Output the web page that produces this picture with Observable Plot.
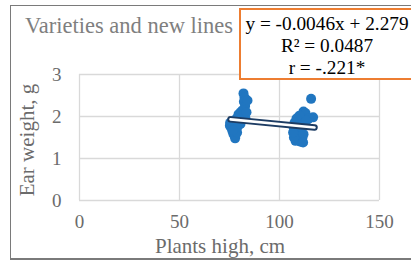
<!DOCTYPE html>
<html><head><meta charset="utf-8">
<script src="https://cdn.jsdelivr.net/npm/d3@7"></script>
<script src="https://cdn.jsdelivr.net/npm/@observablehq/plot@0.6"></script>
<style>
body{margin:0;background:#fff;}
#wrap{position:relative;width:411px;height:262px;overflow:hidden;font-family:"Liberation Serif","Times New Roman",serif;}
#wrap svg{position:absolute;left:0;top:0;}
#frame{position:absolute;left:10px;top:5px;width:430px;height:252px;border:1px solid #7a7a7a;border-bottom:2px solid #7a7a7a;}
#title{position:absolute;left:25px;top:13px;font-size:22.5px;color:#7f7f7f;white-space:nowrap;}
#ytitle{position:absolute;left:27px;top:140px;font-size:21px;line-height:21px;color:#6b6b6b;white-space:nowrap;transform:translate(-50%,-50%) rotate(-90deg);}
#eq{position:absolute;left:239px;top:8px;width:176px;height:72px;border:2px solid #ed7d31;background:#fff;box-sizing:border-box;text-align:center;font-size:19.3px;line-height:22px;color:#000;padding-top:3px;}
</style></head>
<body>
<div id="wrap">
<div id="frame"></div>
<div id="title">Varieties and new lines</div>
<div id="chart"></div>
<div id="ytitle">Ear weight, g</div>
<div id="eq">y = -0.0046x + 2.279<br>R² = 0.0487<br>r = -.221*</div>
</div>
<script>
const plantHeight = [82,82.5,82.2,82.8,81.5,80.5,79.5,81,78.5,77,75.3,75.2,76,77.5,79,76.5,77,78,77.8,78.8,80,83,79,76.8,80.5,84,83.5,
  115.8,112,113,116.8,114.5,110,108.5,107.5,107,108,109,110.5,107.5,108.5,109.5,110.5,108,111.5,112,111,112.5,109.5,107.2,111.8,106.8,113.5];
const earWeight = [2.55,2.45,2.35,2.25,2.15,2.1,2.05,2.0,1.95,1.9,1.85,1.78,1.72,1.7,1.8,1.65,1.58,1.55,1.48,1.62,1.88,1.95,1.75,1.68,1.82,2.38,2.1,
  2.42,2.12,2.08,1.98,1.95,2.02,1.95,1.85,1.75,1.7,1.65,1.62,1.6,1.52,1.45,1.4,1.42,1.5,1.58,1.75,1.85,1.8,1.5,1.38,1.62,1.9];
const slope = -0.0046, intercept = 2.279;
const trendX = [75.5, 117.5];
const xTicks = [0,50,100,150];
const yTicks = [0,1,2,3];

const pts = plantHeight.map((x,i)=>({x, y: earWeight[i]}));
const trend = trendX.map(x=>({x, y: slope*x+intercept}));
const gray = "#6b6b6b";

const chart = Plot.plot({
  width:411, height:262,
  marginLeft:79, marginRight:32, marginTop:74, marginBottom:62,
  style:{fontFamily:"Liberation Serif, Times New Roman, serif", fontSize:"19px", color:gray, background:"transparent", overflow:"visible"},
  x:{domain:[0,150], label:null},
  y:{domain:[0,3], label:null},
  marks:[
    Plot.gridX(xTicks, {stroke:"#d9d9d9", strokeOpacity:1, strokeWidth:1.3}),
    Plot.gridY(yTicks, {stroke:"#d9d9d9", strokeOpacity:1, strokeWidth:1.3}),
    Plot.dot(pts, {x:"x", y:"y", r:5, fill:"#2176c0"}),
    Plot.line(trend, {x:"x", y:"y", stroke:"#1d3c63", strokeWidth:6.5, strokeLinecap:"round"}),
    Plot.line(trend, {x:"x", y:"y", stroke:"#ffffff", strokeWidth:2.6, strokeLinecap:"round"}),
    Plot.axisX(xTicks, {tickSize:0, tickPadding:14, fontSize:19, fill:gray, label:null}),
    Plot.axisY(yTicks, {tickSize:0, tickPadding:18, fontSize:19, fill:gray, label:null}),
    Plot.text(["Plants high, cm"], {frameAnchor:"bottom", text:d=>d, dx:-9.5, dy:52, lineAnchor:"bottom", fontSize:21, fill:gray})
  ]
});
document.getElementById("chart").appendChild(chart);
</script>
</body></html>
